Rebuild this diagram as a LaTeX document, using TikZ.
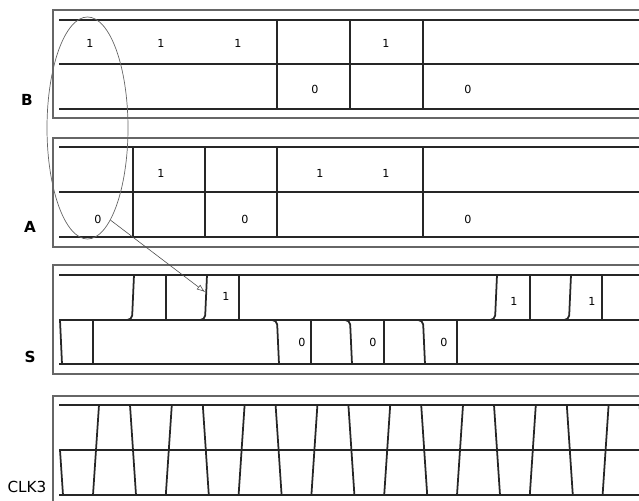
\documentclass[tikz,border=0pt]{standalone}
\usepackage{fontspec}
\setmainfont{DejaVu Sans}
\usetikzlibrary{arrows.meta,shapes.geometric}

\begin{document}
\begin{tikzpicture}[x=0.03cm,y=-0.03cm,
  frame/.style={draw=black!60,line width=1.6pt},
  grid/.style={black!85,line width=1.5pt},
  sig/.style={black!85,line width=1.5pt},
  bit/.style={font=\fontsize{9.5}{11}\selectfont,inner sep=0pt},
  lbl/.style={font=\fontsize{13}{15}\selectfont\bfseries},
  pointer/.style={black!70,line width=0.5pt,-{Latex[open,length=7pt,width=5pt]}}]
  \clip (0,0) rectangle (639,500);

  % B
  \draw[frame] (53,10) rectangle (700,118);
  \foreach \y in {20,64,109} \draw[grid] (59,\y) -- (700,\y);
  \foreach \x in {277,350,423} \draw[grid] (\x,20) -- (\x,109);
  \foreach \x/\y/\t [count=\i] in {90/43/1,161/43/1,238/43/1,315/89/0,386/43/1,468/89/0}
    \node[bit] (b\i) at (\x,\y) {\t};
  \node[lbl] (labB) at (27,100) {B};

  % A
  \draw[frame] (53,138) rectangle (700,247);
  \foreach \y in {147,192,237} \draw[grid] (59,\y) -- (700,\y);
  \foreach \x in {133,205,277,423} \draw[grid] (\x,147) -- (\x,237);
  \foreach \x/\y/\t [count=\i] in {98/219/0,161/173/1,245/219/0,320/173/1,386/173/1,468/219/0}
    \node[bit] (a\i) at (\x,\y) {\t};
  \node[lbl] (labA) at (30,227) {A};

  % S
  \draw[frame] (53,265) rectangle (700,374);
  \foreach \y in {275,320,364} \draw[grid] (59,\y) -- (700,\y);
  \draw[sig] (60,320) -- (62,364) -- (93,364) -- (93,320);
  \foreach \r/\f in {132/166,205/239,495/530,569/602}
    \draw[sig] ({\r-12},320) [rounded corners=4pt] -- (\r,320)
      [sharp corners] -- ({\r+2},275) -- (\f,275) -- (\f,320);
  \foreach \f/\r in {277/311,350/384,423/457}
    \draw[sig] ({\f-10},320) [rounded corners=4pt] -- (\f,320)
      [sharp corners] -- ({\f+2},364) -- (\r,364) -- (\r,320);
  \foreach \x/\y/\t [count=\i] in {226/296/1,302/342/0,373/342/0,444/342/0,514/301/1,592/301/1}
    \node[bit] (s\i) at (\x,\y) {\t};
  \node[lbl] (labS) at (30,357) {S};

  % CLK3
  \draw[frame] (53,396) rectangle (700,504);
  \foreach \y in {405,450,495} \draw[grid] (59,\y) -- (700,\y);
  \draw[sig] (60,450) -- (63,495)
    \foreach \k in {0,...,7}{
      -- ({93+72.8*\k},495) -- ({99+72.8*\k},405)
      -- ({130+72.8*\k},405) -- ({136+72.8*\k},495)};
  \node[font=\fontsize{13}{15}\selectfont] (labC) at (27,487) {CLK3};

  % selection
  \node[ellipse,draw=black!60,line width=0.6pt,inner sep=0pt,
    minimum width=2.43cm,minimum height=6.66cm] (sel) at (87.5,128) {};
  \coordinate (tip) at (205,292);
  \draw[pointer] (sel.-76) -- (tip);
\end{tikzpicture}
\end{document}
